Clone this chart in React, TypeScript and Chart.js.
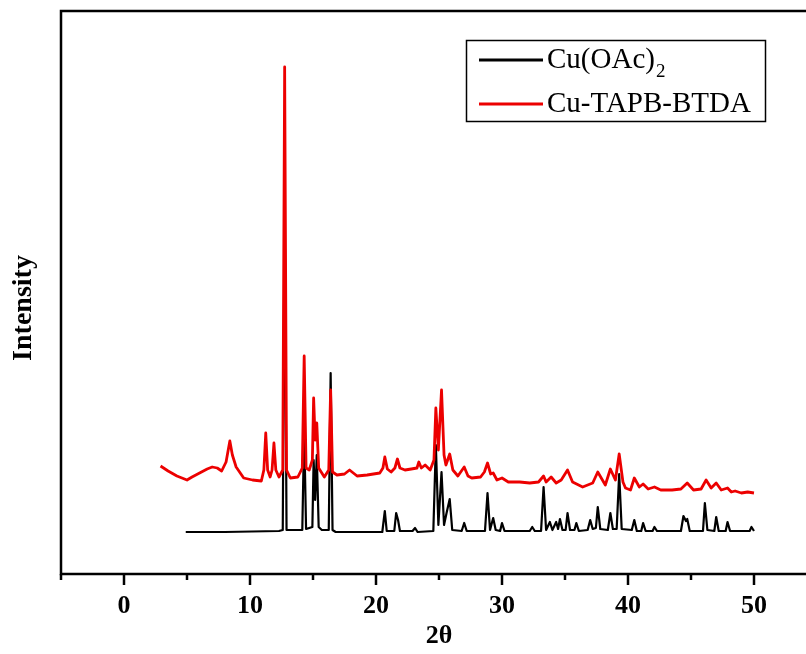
import { useEffect, useRef } from 'react';
import { Chart, registerables } from 'chart.js';

Chart.register(...registerables);

const SERIF = '"Liberation Serif", "Times New Roman", serif';

// Cu-TAPB-BTDA powder pattern (2θ in degrees, intensity in a.u., offset above the reference trace)
const redTheta = [
  2.9, 3.5, 4.2, 5.0, 5.4, 6.0, 6.6, 7.0, 7.4, 7.75,
  8.1, 8.4, 8.6, 8.9, 9.5, 10.2, 10.9, 11.1, 11.25, 11.4,
  11.6, 11.75, 11.9, 12.05, 12.3, 12.6, 12.75, 12.9, 13.2, 13.8,
  14.15, 14.3, 14.45, 14.7, 14.95, 15.05, 15.17, 15.3, 15.45, 15.9,
  16.25, 16.4, 16.55, 16.9, 17.5, 17.9, 18.5, 19.3, 20.3, 20.55,
  20.7, 20.9, 21.2, 21.5, 21.7, 21.9, 22.3, 22.8, 23.25, 23.4,
  23.6, 23.9, 24.3, 24.6, 24.75, 24.95, 25.2, 25.4, 25.55, 25.85,
  26.1, 26.5, 27.0, 27.3, 27.6, 28.3, 28.6, 28.85, 29.1, 29.3,
  29.6, 30.0, 30.5, 31.4, 32.2, 32.9, 33.3, 33.5, 33.9, 34.3,
  34.7, 35.2, 35.6, 36.4, 37.2, 37.6, 38.2, 38.6, 39.0, 39.3,
  39.6, 39.8, 40.2, 40.5, 40.9, 41.2, 41.6, 42.1, 42.6, 43.5,
  44.2, 44.7, 45.2, 45.8, 46.2, 46.6, 47.0, 47.4, 47.9, 48.2,
  48.5, 49.0, 49.5, 50.0,
];
const redIntensity = [
  111, 106, 101, 97, 100, 104, 108, 110, 109, 106,
  115, 136, 122, 110, 99, 97, 96, 107, 144, 107,
  100, 107, 134, 107, 100, 107, 510, 107, 99, 100,
  109, 221, 109, 107, 117, 179, 137, 154, 109, 100,
  107, 187, 105, 102, 103, 107, 101, 102, 104, 109,
  120, 108, 105, 109, 118, 109, 107, 108, 109, 115,
  109, 112, 107, 117, 169, 127, 187, 122, 112, 123,
  107, 101, 110, 101, 99, 100, 105, 114, 103, 104,
  97, 99, 95, 95, 94, 95, 101, 95, 100, 94,
  97, 107, 95, 90, 94, 105, 92, 108, 97, 123,
  95, 89, 87, 99, 90, 93, 88, 90, 87, 87,
  88, 94, 87, 88, 97, 89, 94, 87, 89, 85,
  86, 84, 85, 84,
];

// Cu(OAc)2 reference pattern
const blackTheta = [
  4.9, 8.0, 12.3, 12.6, 12.75, 12.9, 13.2, 14.15, 14.3, 14.45,
  14.7, 14.95, 15.05, 15.17, 15.3, 15.45, 15.7, 16.25, 16.4, 16.55,
  16.8, 20.5, 20.7, 20.85, 21.45, 21.6, 21.75, 21.9, 22.9, 23.1,
  23.3, 24.55, 24.75, 24.95, 25.2, 25.4, 25.6, 25.85, 26.05, 26.8,
  27.0, 27.2, 28.65, 28.85, 29.05, 29.3, 29.5, 29.85, 30.0, 30.2,
  32.2, 32.4, 32.6, 33.1, 33.3, 33.5, 33.8, 34.0, 34.3, 34.45,
  34.6, 34.8, 35.05, 35.2, 35.4, 35.75, 35.9, 36.1, 36.8, 37.0,
  37.2, 37.45, 37.6, 37.8, 38.4, 38.6, 38.8, 39.1, 39.3, 39.5,
  40.3, 40.5, 40.7, 41.05, 41.2, 41.4, 41.95, 42.1, 42.3, 44.2,
  44.4, 44.6, 44.7, 44.9, 45.95, 46.1, 46.3, 46.85, 47.0, 47.2,
  47.75, 47.9, 48.1, 49.65, 49.8, 50.0,
];
const blackIntensity = [
  45, 45, 46, 47, 380, 47, 47, 47, 147, 48,
  49, 50, 117, 77, 122, 50, 47, 47, 204, 47,
  45, 45, 66, 46, 46, 64, 57, 46, 46, 49,
  45, 46, 132, 52, 105, 52, 64, 78, 47, 46,
  54, 46, 46, 84, 47, 59, 47, 46, 54, 46,
  46, 50, 46, 46, 90, 47, 55, 47, 55, 48,
  58, 47, 47, 64, 47, 47, 54, 46, 47, 57,
  48, 49, 70, 48, 47, 64, 48, 48, 103, 48,
  47, 57, 46, 46, 54, 46, 46, 50, 46, 46,
  61, 56, 58, 46, 46, 74, 47, 46, 60, 46,
  46, 55, 46, 46, 50, 46,
];

const seriesLabels = ['Cu(OAc)2', 'Cu-TAPB-BTDA'];
const seriesColors = ['#000000', '#ec0000'];

const toPoints = (xs: number[], ys: number[]) => xs.map((x, i) => ({ x, y: ys[i] }));

// Draws the open frame, the long/short x tick marks, the y title and the boxed legend.
const framePlugin = {
  id: 'xrdFrame',
  afterDraw(chart: any) {
    const { ctx, chartArea } = chart;
    const { left, top, right, bottom } = chartArea;
    const xScale = chart.scales.x;
    ctx.save();
    ctx.strokeStyle = '#000';
    ctx.lineWidth = 2.5;
    ctx.beginPath();
    ctx.moveTo(left, bottom);
    ctx.lineTo(left, top);
    ctx.lineTo(right, top);
    ctx.moveTo(left - 1.25, bottom);
    ctx.lineTo(right, bottom);
    ctx.stroke();

    xScale.ticks.forEach((t: any) => {
      const px = xScale.getPixelForValue(t.value);
      const len = t.value % 10 === 0 ? 11 : 6;
      ctx.beginPath();
      ctx.moveTo(px, bottom);
      ctx.lineTo(px, bottom + len);
      ctx.stroke();
    });

    // y-axis title
    ctx.save();
    ctx.translate(24, 308);
    ctx.rotate(-Math.PI / 2);
    ctx.fillStyle = '#000';
    ctx.font = `bold 28px ${SERIF}`;
    ctx.textAlign = 'center';
    ctx.textBaseline = 'middle';
    ctx.fillText('Intensity', 0, 0);
    ctx.restore();

    // legend
    const boxL = 466.5, boxT = 40.5, boxW = 299, boxH = 81;
    ctx.lineWidth = 1.5;
    ctx.strokeRect(boxL, boxT, boxW, boxH);
    chart.data.datasets.forEach((ds: any, i: number) => {
      const cy = 60 + i * 44;
      ctx.strokeStyle = ds.borderColor;
      ctx.lineWidth = 3;
      ctx.beginPath();
      ctx.moveTo(479, cy);
      ctx.lineTo(543, cy);
      ctx.stroke();
      ctx.fillStyle = '#000';
      ctx.textAlign = 'left';
      ctx.textBaseline = 'middle';
      ctx.font = `29px ${SERIF}`;
      const m = /^(.*?)(\d+)$/.exec(ds.label);
      const main = m ? m[1] : ds.label;
      ctx.fillText(main, 547, cy);
      if (m) {
        const w = ctx.measureText(main).width;
        ctx.font = `19px ${SERIF}`;
        ctx.fillText(m[2], 547 + w + 1, cy + 12);
      }
    });
    ctx.restore();
  },
};

export default function App() {
  const canvasRef = useRef<HTMLCanvasElement | null>(null);

  useEffect(() => {
    const canvas = canvasRef.current;
    if (!canvas) return;
    const chart = new Chart(canvas, {
      type: 'line',
      data: {
        datasets: [
          {
            label: seriesLabels[0],
            data: toPoints(blackTheta, blackIntensity),
            borderColor: seriesColors[0],
            borderWidth: 2.2,
            pointRadius: 0,
            tension: 0,
            fill: false,
            borderJoinStyle: 'round',
            order: 1,
          },
          {
            label: seriesLabels[1],
            data: toPoints(redTheta, redIntensity),
            borderColor: seriesColors[1],
            borderWidth: 2.8,
            pointRadius: 0,
            tension: 0,
            fill: false,
            borderJoinStyle: 'round',
            order: 0,
          },
        ],
      },
      options: {
        responsive: false,
        maintainAspectRatio: false,
        animation: false,
        devicePixelRatio: 1,
        layout: { padding: { left: 61, top: 11, right: 3, bottom: 0 } },
        plugins: {
          legend: { display: false },
          tooltip: { enabled: false },
        },
        scales: {
          x: {
            type: 'linear',
            min: -5,
            max: 55,
            grid: { display: false },
            border: { display: false },
            ticks: {
              stepSize: 5,
              autoSkip: false,
              maxRotation: 0,
              padding: 9,
              color: '#000',
              font: { family: SERIF, size: 26, weight: 'bold' },
              callback: (v: any) => (Number(v) % 10 === 0 ? String(v) : ''),
            },
            title: {
              display: true,
              text: '2θ',
              color: '#000',
              font: { family: SERIF, size: 26, weight: 'bold' },
              padding: { top: 0, bottom: 2 },
            },
            afterFit: (scale: any) => {
              scale.height = 80;
              scale.paddingLeft = 0;
              scale.paddingRight = 0;
            },
          },
          y: {
            type: 'linear',
            display: false,
            min: 3,
            max: 566,
          },
        },
      },
      plugins: [framePlugin],
    });
    return () => chart.destroy();
  }, []);

  return (
    <div
      style={{
        position: 'fixed',
        left: 0,
        top: 0,
        width: 806,
        height: 654,
        overflow: 'hidden',
        background: '#fff',
      }}
    >
      <canvas ref={canvasRef} width={820} height={654} style={{ display: 'block' }} />
    </div>
  );
}
